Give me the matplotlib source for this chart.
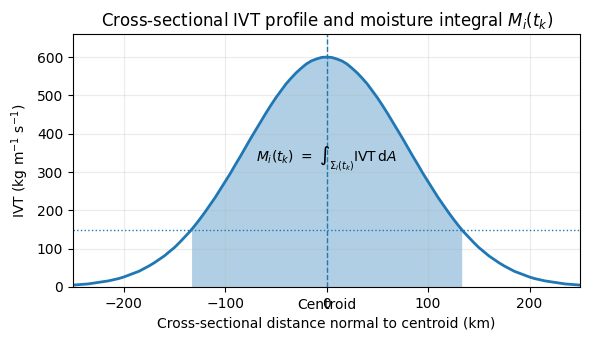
import numpy as np
import matplotlib
matplotlib.use("Agg")
import matplotlib.pyplot as plt

# Cross-sectional distance (km) and IVT values (symmetric)
distance_km = np.arange(-250, 251, 5)
ivt_right = [600, 599, 595, 590, 582, 571, 559, 545, 530, 512, 494, 474, 453,
             431, 409, 387, 364, 341, 319, 296, 275, 254, 233, 214, 195, 177,
             160, 144, 130, 116, 103, 92, 81, 72, 63, 55, 48, 41, 36, 31, 26,
             22, 19, 16, 14, 12, 10, 8, 7, 6, 5]
ivt = np.array(ivt_right[:0:-1] + ivt_right, dtype=float)

ivt_threshold = 150
centroid_x = 0

fig, ax = plt.subplots(figsize=(5.9, 3.4), dpi=100)

ax.plot(distance_km, ivt, color='C0', linewidth=2)

# shaded area above threshold, edges at the threshold crossings
mid = len(distance_km) // 2
x_left = np.interp(ivt_threshold, ivt[:mid + 1], distance_km[:mid + 1])
x_right = np.interp(ivt_threshold, ivt[mid:][::-1], distance_km[mid:][::-1])
inside = ivt >= ivt_threshold
fx = np.concatenate([[x_left], distance_km[inside], [x_right]])
fy = np.concatenate([[ivt_threshold], ivt[inside], [ivt_threshold]])
ax.fill_between(fx, 0, fy, color='C0', alpha=0.35, linewidth=0)

ax.axhline(ivt_threshold, color='C0', linestyle=':', linewidth=1)
ax.axvline(centroid_x, color='C0', linestyle='--', linewidth=1)

ax.text(0, 335, r'$M_i(t_k)\ =\ \int_{\Sigma_i(t_k)} \mathrm{IVT}\,\mathrm{d}A$',
        ha='center', va='center', fontsize=10)
ax.text(centroid_x, -0.045, 'Centroid', transform=ax.get_xaxis_transform(),
        ha='center', va='top', fontsize=10)

ax.set_xlim(-250, 250)
ax.set_ylim(0, 660)
ax.set_title(r'Cross-sectional IVT profile and moisture integral $M_i(t_k)$')
ax.set_xlabel('Cross-sectional distance normal to centroid (km)')
ax.set_ylabel(r'IVT (kg m$^{-1}$ s$^{-1}$)')
ax.grid(True, alpha=0.25)

plt.tight_layout(pad=0.7)
plt.savefig('out.png')
